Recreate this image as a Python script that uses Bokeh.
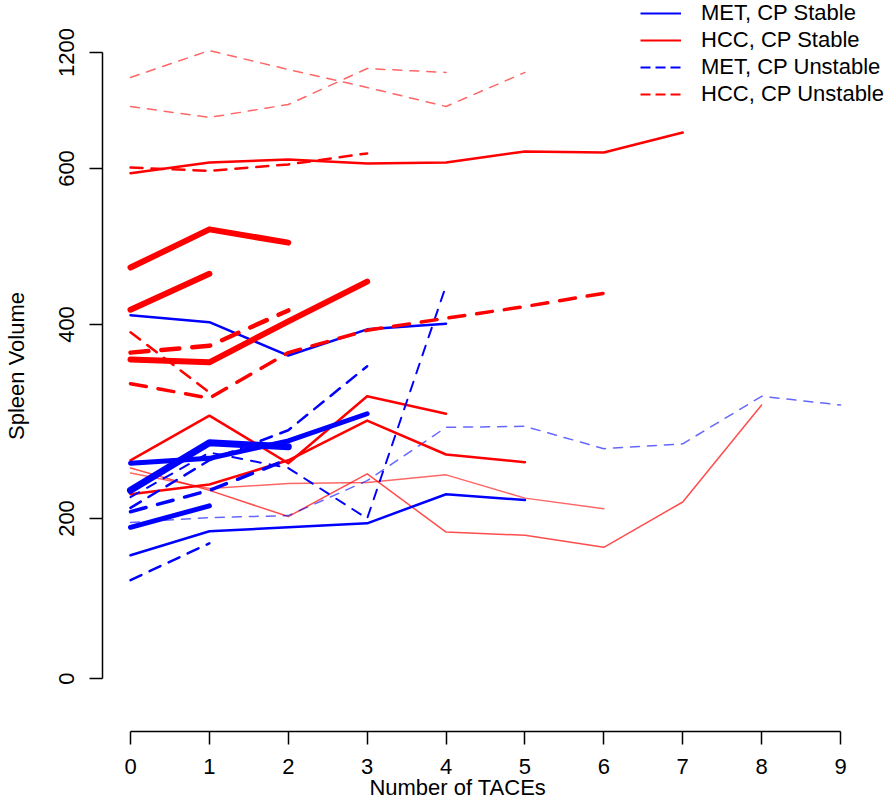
import numpy as np
from bokeh.plotting import figure
from bokeh.models import FixedTicker, Legend, LegendItem, LinearAxis
from bokeh.embed import file_html
from bokeh.resources import INLINE

# ---------------- data ----------------
x_ticks = [0, 1, 2, 3, 4, 5, 6, 7, 8, 9]
y_tick_values = [0, 200, 400, 600, 1200]
y_tick_labels = ["0", "200", "400", "600", "1200"]
# position of each labelled tick on the (non-linear) spleen-volume axis
y_tick_pos = [0, 160, 354, 510, 626]

# MET, CP Stable (blue solid)
met_stable_1 = [412, 403, 368, 395, 401]
met_stable_2 = [229, 278, 274]
met_stable_3 = [257, 262, 280, 308]
met_stable_4 = [189, 213]
met_stable_5 = [154, 184, 189, 194, 225, 219]

# HCC, CP Stable (red solid)
hcc_stable_1 = [594, 631, 647, 626, 631, 688, 683, 786]
hcc_stable_2 = [473, 522, 505]
hcc_stable_3 = [419, 465]
hcc_stable_4 = [364, 361, 404, 455]
hcc_stable_5 = [260, 306, 257, 326, 308]
hcc_stable_6 = [225, 235, 260, 301, 266, 258]
hcc_stable_7 = [252, 229, 202, 246, 183, 179, 164, 217, 317]
hcc_stable_8 = [247, 231, 236, 237, 245, 221, 210]

# MET, CP Unstable (blue dashed)
met_unstable_1 = [222, 268, 252, 200, 450]
met_unstable_2 = [123, 169]
met_unstable_3 = [207, 229, 261]
met_unstable_4 = [211, 260, 291, 357]
met_unstable_5 = [195, 201, 203, 239, 294, 295, 272, 277, 326, 317]

# HCC, CP Unstable (red dashed)
hcc_unstable_1 = [1071, 1210, 1112, 1019, 921, 1097]
hcc_unstable_2 = [921, 864, 931, 1117, 1097]
hcc_unstable_3 = [605, 597, 621, 678]
hcc_unstable_4 = [371, 378, 418]
hcc_unstable_5 = [339, 324, 371, 394, 408, 423, 440]
hcc_unstable_6 = [392, 330]

legend_labels = ["MET, CP Stable", "HCC, CP Stable", "MET, CP Unstable", "HCC, CP Unstable"]
x_title = "Number of TACEs"
y_title = "Spleen Volume"

BLUE = "#0000FF"
RED = "#FF0000"

# (values, colour, dash, width, alpha)
series = [
    (hcc_unstable_1, RED, "9 8", 1.5, 0.6),
    (hcc_unstable_2, RED, "9 8", 1.5, 0.6),
    (hcc_stable_7, RED, "solid", 1.5, 0.7),
    (hcc_stable_8, RED, "solid", 1.5, 0.6),
    (met_unstable_5, BLUE, "9 8", 1.5, 0.6),
    (hcc_stable_1, RED, "solid", 2.5, 1.0),
    (hcc_unstable_3, RED, "12 9", 2.5, 1.0),
    (hcc_stable_5, RED, "solid", 2.5, 1.0),
    (hcc_stable_6, RED, "solid", 2.5, 1.0),
    (hcc_unstable_6, RED, "12 9", 2.5, 1.0),
    (met_stable_1, BLUE, "solid", 2.5, 1.0),
    (met_stable_5, BLUE, "solid", 2.5, 1.0),
    (met_unstable_1, BLUE, "10 9", 2.0, 1.0),
    (met_unstable_2, BLUE, "12 9", 2.5, 1.0),
    (met_unstable_4, BLUE, "12 9", 2.5, 1.0),
    (met_unstable_3, BLUE, "16 12", 3.5, 1.0),
    (hcc_unstable_5, RED, "16 12", 3.5, 1.0),
    (hcc_unstable_4, RED, "18 13", 4.5, 1.0),
    (met_stable_3, BLUE, "solid", 5.0, 1.0),
    (met_stable_4, BLUE, "solid", 5.0, 1.0),
    (hcc_stable_2, RED, "solid", 6.0, 1.0),
    (hcc_stable_3, RED, "solid", 6.0, 1.0),
    (hcc_stable_4, RED, "solid", 6.0, 1.0),
    (met_stable_2, BLUE, "solid", 7.0, 1.0),
]


def ypos(v):
    v = np.asarray(v, dtype=float)
    out = np.interp(v, y_tick_values, y_tick_pos)
    slope = (y_tick_pos[-1] - y_tick_pos[-2]) / (y_tick_values[-1] - y_tick_values[-2])
    hi = v > y_tick_values[-1]
    out[hi] = y_tick_pos[-1] + (v[hi] - y_tick_values[-1]) * slope
    return out


FONT = "Liberation Sans"
FS = "22px"

p = figure(width=886, height=802, x_range=(-0.355, 9.583), y_range=(-53, 678),
           output_backend="svg", toolbar_location=None,
           x_axis_type=None, y_axis_type=None,
           min_border_left=102, min_border_right=0, min_border_top=0, min_border_bottom=71)
p.outline_line_color = None
p.background_fill_color = "white"
p.border_fill_color = "white"

for vals, color, dash, width, alpha in series:
    xs = x_ticks[:len(vals)]
    p.line(xs, ypos(vals), line_color=color, line_width=width, line_dash=dash,
           line_alpha=alpha, line_cap="round", line_join="round")

# axes
xaxis = LinearAxis(ticker=FixedTicker(ticks=x_ticks), bounds=(x_ticks[0], x_ticks[-1]))
ytick_positions = [float(t) for t in ypos(y_tick_values)]
yaxis = LinearAxis(ticker=FixedTicker(ticks=ytick_positions),
                   bounds=(ytick_positions[0], ytick_positions[-1]),
                   major_label_overrides={t: l for t, l in zip(ytick_positions, y_tick_labels)})
for ax in (xaxis, yaxis):
    ax.axis_line_color = "black"
    ax.axis_line_width = 1.5
    ax.major_tick_line_color = "black"
    ax.major_tick_line_width = 1.5
    ax.major_tick_out = 13
    ax.major_tick_in = 0
    ax.minor_tick_line_color = None
    ax.major_label_text_font = FONT
    ax.major_label_text_font_size = FS
    ax.major_label_text_color = "black"
    ax.axis_label_text_font = FONT
    ax.axis_label_text_font_size = FS
    ax.axis_label_text_font_style = "normal"
    ax.axis_label_text_color = "black"

xaxis.major_label_standoff = 14
# trailing no-break spaces move the centred title slightly left, as in the reference
xaxis.axis_label = x_title + "\u00a0" * 12
xaxis.axis_label_standoff = -2
yaxis.major_label_orientation = "vertical"
yaxis.major_label_standoff = 16
yaxis.axis_label = y_title
yaxis.axis_label_standoff = 27
p.add_layout(xaxis, "below")
p.add_layout(yaxis, "left")

# legend (placeholder renderers carry only the legend styling)
nan = [np.nan]
r1 = p.line(nan, nan, line_color=BLUE, line_width=2)
r2 = p.line(nan, nan, line_color=RED, line_width=2)
r3 = p.line(nan, nan, line_color=BLUE, line_width=2, line_dash="10 5")
r4 = p.line(nan, nan, line_color=RED, line_width=2, line_dash="10 5")
legend = Legend(items=[LegendItem(label=lab, renderers=[r])
                       for lab, r in zip(legend_labels, [r1, r2, r3, r4])],
                location=(538, 624), glyph_width=41, glyph_height=20, label_height=20,
                label_standoff=20, spacing=1, padding=0, margin=0,
                border_line_color=None, background_fill_alpha=0,
                label_text_font=FONT, label_text_font_size=FS, label_text_color="black")
p.add_layout(legend)

open("out.html", "w").write(file_html(p, INLINE))
